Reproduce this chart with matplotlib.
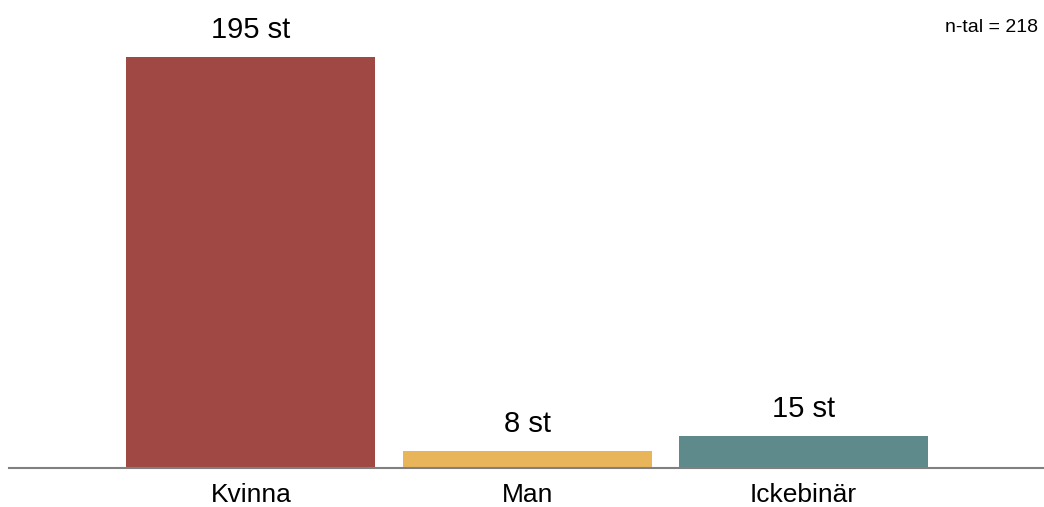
import matplotlib
matplotlib.use("Agg")
import matplotlib.pyplot as plt

categories = ["Kvinna", "Man", "Ickebinär"]
counts = [195, 8, 15]
colors = ["#A04843", "#E8B55A", "#5F8A8B"]
n_total = 218

plt.rcParams['font.family'] = ['Liberation Sans', 'DejaVu Sans']

fig = plt.figure(figsize=(10.44, 5.07), dpi=100)
ax = fig.add_axes([9 / 1044, 39 / 507, 1 - 9 / 1044, 468 / 507])

x = range(len(categories))
bars = ax.bar(x, counts, width=0.9, color=colors)

for b, c in zip(bars, counts):
    ax.annotate(f"{c} st", (b.get_x() + b.get_width() / 2, c),
                xytext=(0, 9.5), textcoords="offset points",
                ha="center", va="bottom", fontsize=21)

ax.set_xlim(-0.875, 2.87)
ax.set_ylim(0, 222)
ax.set_xticks(list(x))
ax.set_xticklabels(categories, fontsize=19)
ax.tick_params(axis="x", length=0, pad=11)
ax.set_yticks([])
for s in ["top", "right", "left"]:
    ax.spines[s].set_visible(False)
ax.spines["bottom"].set_color("#808080")
ax.spines["bottom"].set_linewidth(1.5)

fig.text(1038 / 1044, 1 - 32 / 507, f"n-tal = {n_total}", ha="right",
         va="baseline", fontsize=14)

fig.savefig("out.png", dpi=100)
